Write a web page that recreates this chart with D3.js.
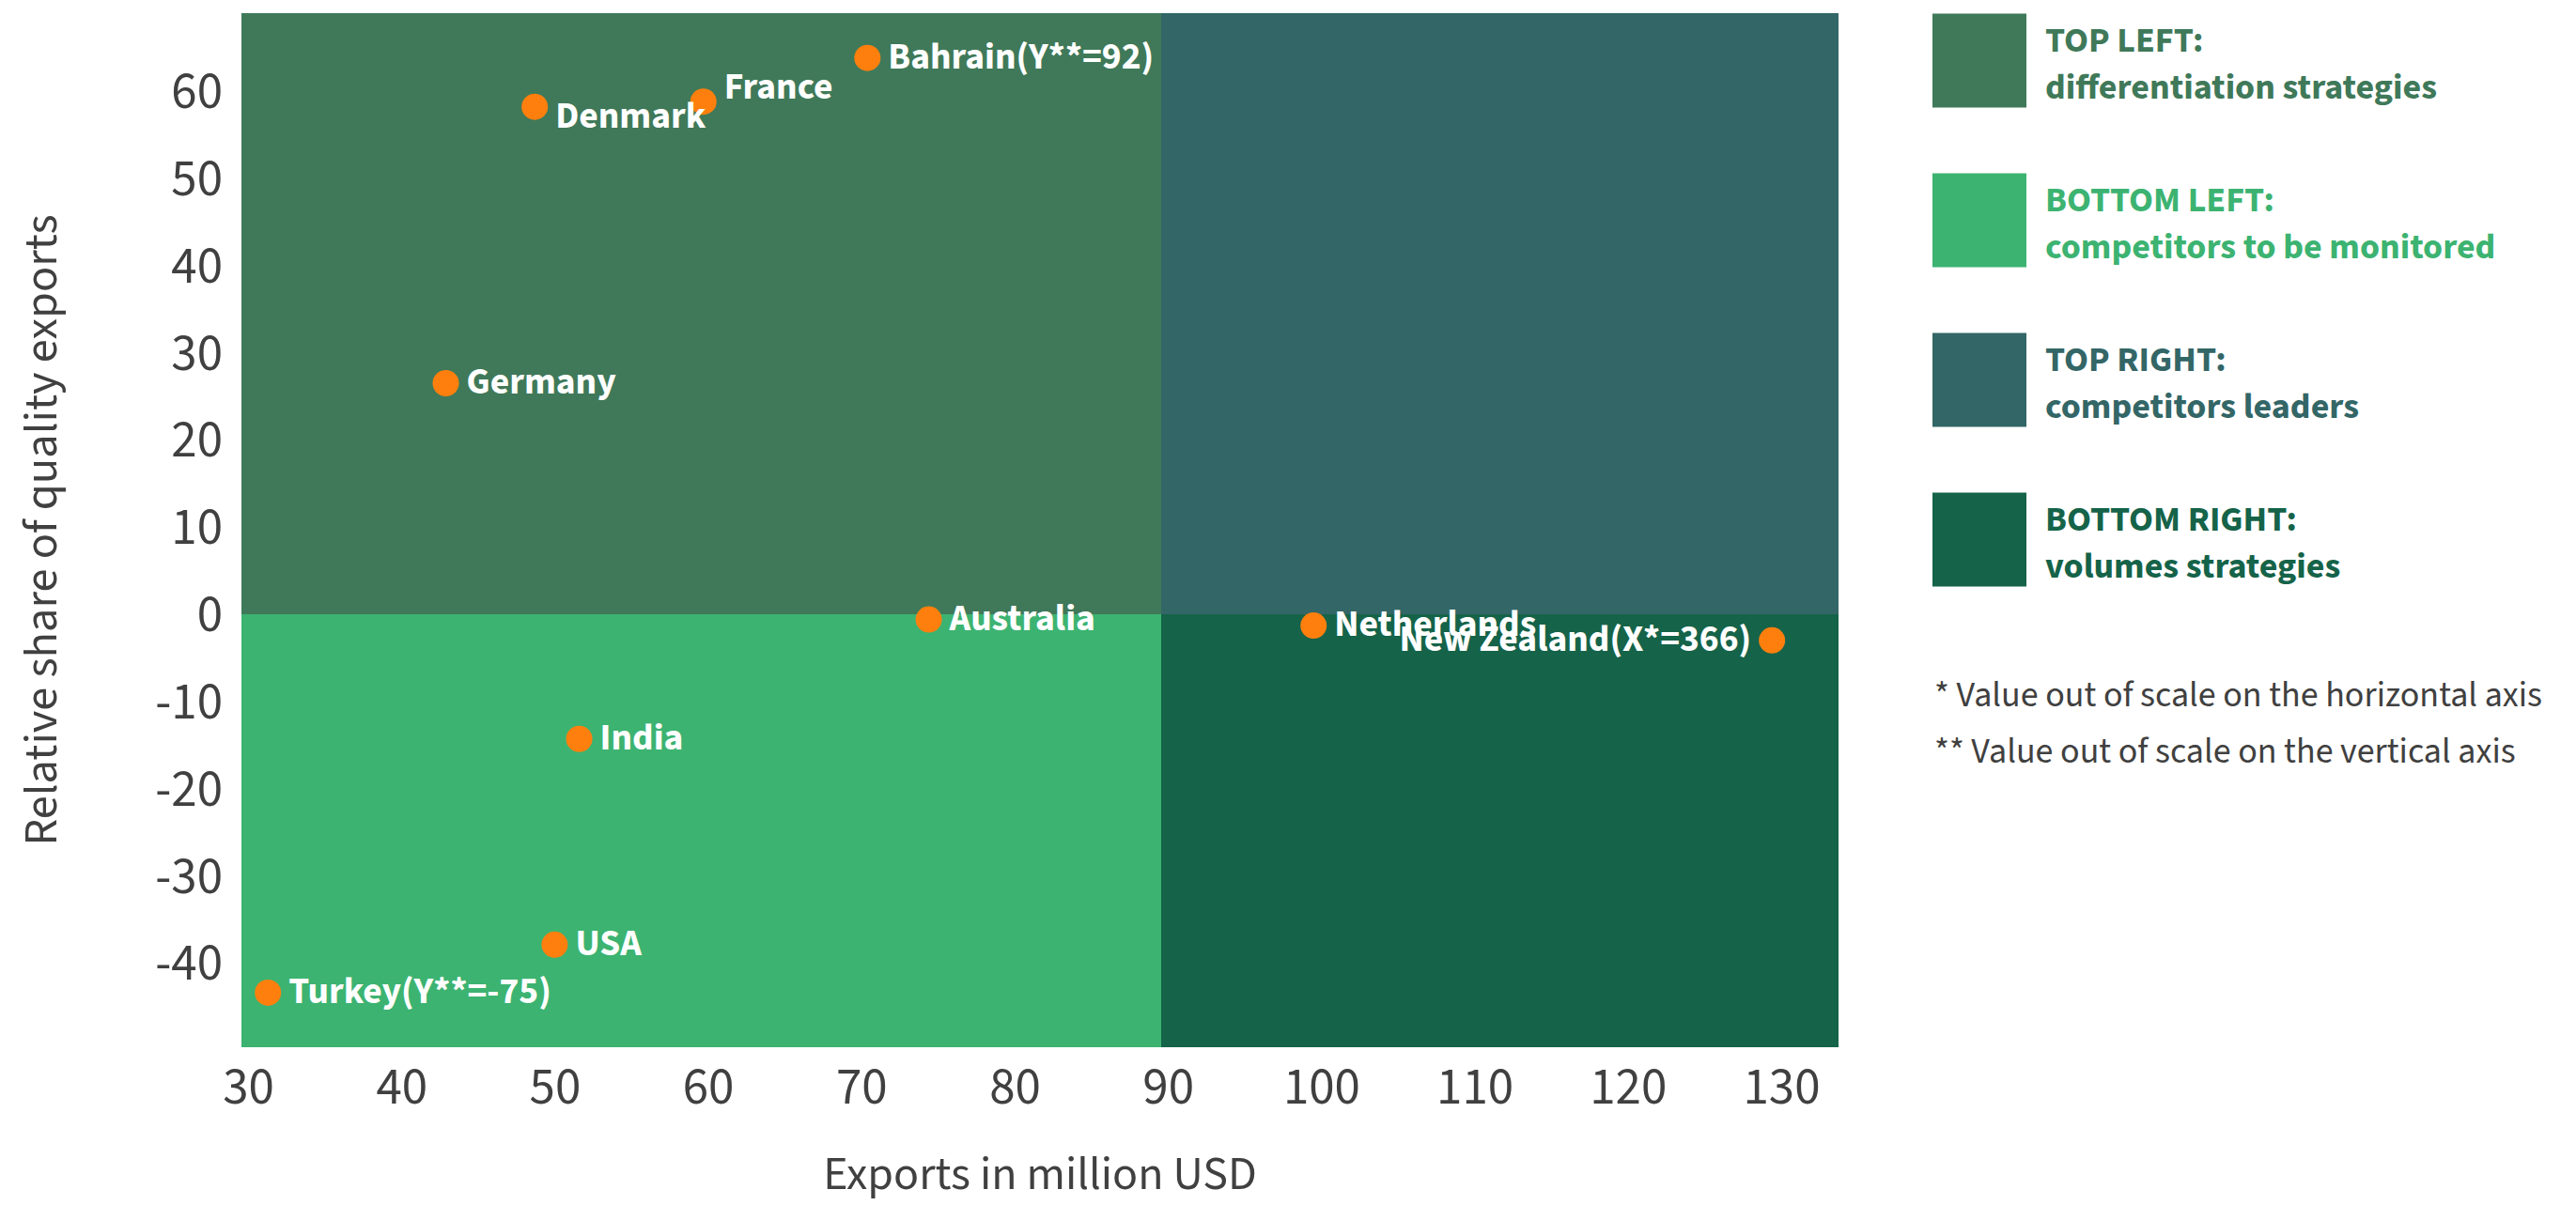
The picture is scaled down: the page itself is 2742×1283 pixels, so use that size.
<!DOCTYPE html>
<html>
<head>
<meta charset="utf-8">
<script src="https://cdn.jsdelivr.net/npm/d3@7"></script>
<style>
  html, body { margin: 0; padding: 0; background: #ffffff; }
  svg { display: block; font-family: "Source Sans Pro", "Source Sans 3", Lato, sans-serif; }
</style>
</head>
<body>
<svg id="chart" width="2742" height="1283"></svg>
<script>
// ---- data ----
const countries = ["Bahrain(Y**=92)", "France", "Denmark", "Germany", "Australia", "India", "USA", "Turkey(Y**=-75)", "Netherlands", "New Zealand(X*=366)"];
const exportsMillionUSD = [70.4, 59.7, 48.7, 42.9, 74.4, 51.6, 50.0, 31.3, 99.5, 129.4];
const relativeShare = [63.8, 58.8, 58.2, 26.5, -0.6, -14.3, -37.9, -43.4, -1.3, -3.0];

const xTicks = [30, 40, 50, 60, 70, 80, 90, 100, 110, 120, 130];
const yTicks = [-40, -30, -20, -10, 0, 10, 20, 30, 40, 50, 60];
const xDomain = [29.57, 133.74];
const yDomain = [-49.66, 68.94];
const xSplit = 89.55;
const ySplit = 0;

const quadrantNames = ["TOP LEFT:", "BOTTOM LEFT:", "TOP RIGHT:", "BOTTOM RIGHT:"];
const quadrantDescriptions = ["differentiation strategies", "competitors to be monitored", "competitors leaders", "volumes strategies"];
const footnotes = ["* Value out of scale on the horizontal axis", "** Value out of scale on the vertical axis"];
const xTitle = "Exports in million USD";
const yTitle = "Relative share of quality exports";

// ---- style ----
const colors = {
  "TOP LEFT:": "#3f7959",
  "BOTTOM LEFT:": "#3cb371",
  "TOP RIGHT:": "#336666",
  "BOTTOM RIGHT:": "#156349"
};
const pointColor = "#ff7f0e";
const textGray = "#404040";
// label placement tweaks (layout only)
const labelLeft = {"New Zealand(X*=366)": true};
const labelShift = {"Denmark": 11, "France": -14};

const plot = {left: 257, right: 1957, top: 14, bottom: 1115};

const svg = d3.select("#chart");
const x = d3.scaleLinear().domain(xDomain).range([plot.left, plot.right]);
const y = d3.scaleLinear().domain(yDomain).range([plot.bottom, plot.top]);

// quadrants
const quads = [
  {name: "TOP LEFT:", x0: xDomain[0], x1: xSplit, y0: ySplit, y1: yDomain[1]},
  {name: "BOTTOM LEFT:", x0: xDomain[0], x1: xSplit, y0: yDomain[0], y1: ySplit},
  {name: "TOP RIGHT:", x0: xSplit, x1: xDomain[1], y0: ySplit, y1: yDomain[1]},
  {name: "BOTTOM RIGHT:", x0: xSplit, x1: xDomain[1], y0: yDomain[0], y1: ySplit}
];
svg.append("g").selectAll("rect").data(quads).join("rect")
  .attr("x", d => x(d.x0))
  .attr("y", d => y(d.y1))
  .attr("width", d => x(d.x1) - x(d.x0))
  .attr("height", d => y(d.y0) - y(d.y1))
  .attr("fill", d => colors[d.name])
  .attr("shape-rendering", "crispEdges");

// axes
const fmt = d => String(d);
const xAxis = svg.append("g")
  .attr("transform", `translate(0,${plot.bottom})`)
  .call(d3.axisBottom(x).tickValues(xTicks).tickSize(0).tickPadding(21).tickFormat(fmt));
const yAxis = svg.append("g")
  .attr("transform", `translate(${plot.left},0)`)
  .call(d3.axisLeft(y).tickValues(yTicks).tickSize(0).tickPadding(20).tickFormat(fmt));
[xAxis, yAxis].forEach(a => {
  a.select(".domain").remove();
  a.selectAll("text")
    .attr("fill", textGray)
    .style("font-size", "55px")
    .style("font-weight", "400")
    .style("font-family", "\"Source Sans Pro\", \"Source Sans 3\", Lato, sans-serif");
});

// axis titles
svg.append("text")
  .attr("x", (plot.left + plot.right) / 2)
  .attr("y", 1266)
  .attr("text-anchor", "middle")
  .attr("fill", textGray)
  .style("font-size", "50px")
  .text(xTitle);
svg.append("text")
  .attr("transform", `translate(60,${(plot.top + plot.bottom) / 2}) rotate(-90)`)
  .attr("text-anchor", "middle")
  .attr("fill", textGray)
  .style("font-size", "50.5px")
  .text(yTitle);

// points
const pts = countries.map((c, i) => ({name: c, x: exportsMillionUSD[i], y: relativeShare[i]}));
svg.append("g").selectAll("circle").data(pts).join("circle")
  .attr("cx", d => x(d.x))
  .attr("cy", d => y(d.y))
  .attr("r", 14)
  .attr("fill", pointColor);

svg.append("g").selectAll("text").data(pts).join("text")
  .attr("x", d => labelLeft[d.name] ? x(d.x) - 22 : x(d.x) + 22)
  .attr("y", d => y(d.y) + 11 + (labelShift[d.name] || 0))
  .attr("text-anchor", d => labelLeft[d.name] ? "end" : "start")
  .attr("fill", "#ffffff")
  .style("font-size", "39.5px")
  .style("font-weight", "700")
  .text(d => d.name);

// legend
const legend = svg.append("g").selectAll("g").data(quadrantNames).join("g")
  .attr("transform", (d, i) => `translate(2057,${14.5 + i * 170})`);
legend.append("rect")
  .attr("width", 100).attr("height", 100)
  .attr("fill", d => colors[d]);
legend.append("text")
  .attr("x", 120).attr("y", 40)
  .attr("fill", d => colors[d])
  .style("font-size", "38px").style("font-weight", "700")
  .text(d => d);
legend.append("text")
  .attr("x", 120).attr("y", 90)
  .attr("fill", d => colors[d])
  .style("font-size", "38px").style("font-weight", "700")
  .text((d, i) => quadrantDescriptions[i]);

// footnotes
svg.append("g").selectAll("text").data(footnotes).join("text")
  .attr("x", 2059)
  .attr("y", (d, i) => 752 + i * 60)
  .attr("fill", textGray)
  .style("font-size", "38px")
  .text(d => d);
</script>
</body>
</html>
